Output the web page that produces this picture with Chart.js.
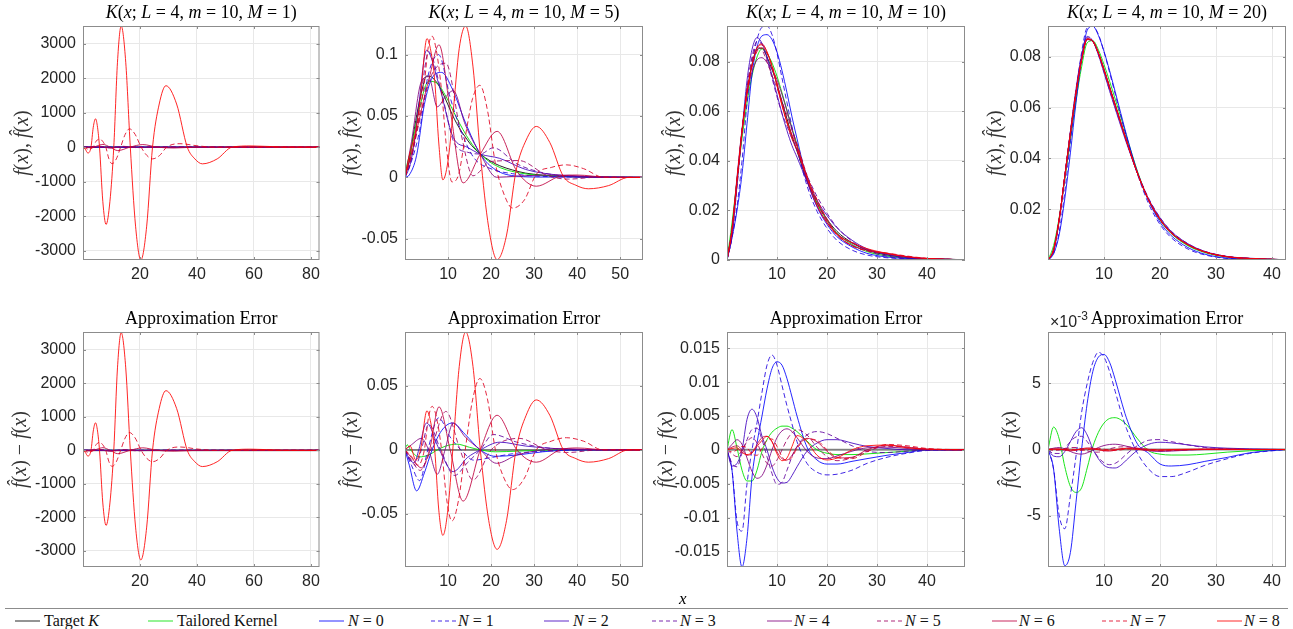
<!DOCTYPE html>
<html>
<head>
<meta charset="utf-8">
<title>Kernel approximation</title>
<script src="https://cdn.jsdelivr.net/npm/chart.js@4.4.1/dist/chart.umd.min.js"></script>
<style>
  body { margin: 0; background: #fff; }
  #fig { position: relative; width: 1293px; height: 629px; overflow: hidden; font-family: "Liberation Serif", "DejaVu Serif", serif; }
  #fig canvas { position: absolute; }
  .rule { position: absolute; left: 5px; width: 1283px; top: 608px; border-top: 1px solid #8c8c8c; }
  .xlab { position: absolute; left: 679px; top: 589px; font-style: italic; font-size: 17px; }
  .key { position: absolute; top: 611px; font-size: 16px; line-height: 20px; white-space: nowrap; color: #111; }
  .sample { position: absolute; top: 620px; width: 25px; height: 2px; }
</style>
</head>
<body>
<div id="fig"></div>
<script>
// ---------------- data ----------------
const seriesNames = ['Target K', 'Tailored Kernel', 'N = 0', 'N = 1', 'N = 2', 'N = 3', 'N = 4', 'N = 5', 'N = 6', 'N = 7', 'N = 8'];

// M = 1 : kernel and approximations, [x, y] pairs
const fitM1 = [
  [[0,0],[2,0.033],[6,0.082],[12,0.044],[20,0.013],[30,0.0025],[83,0]],
  [[0,0],[2,0.033],[6,0.079],[12,0.05],[20,0.016],[30,0.0025],[83,0]],
  [[0,0],[3,-3],[10,2],[20,-1],[40,0],[83,0]],
  [[0,0],[3,-3],[8,3],[16,-2],[30,0],[83,0]],
  [[0,0],[4,5],[10,-5],[18,3],[30,0],[83,0]],
  [[0,0],[5,8],[10,-8],[16,5],[25,0],[83,0]],
  [[0,0],[4,12],[9,-15],[14,10],[20,-5],[30,0],[83,0]],
  [[0,0],[3,-10],[6,25],[10,-30],[14,25],[19,-15],[25,5],[35,0],[83,0]],
  [[0,0],[3,-20],[4.8,30],[7,80],[9.5,0],[12.2,-100],[16.5,0],[21,75],[26,0],[32,-25],[40,0],[83,0]],
  [[0,0],[2,-60],[3.5,0],[4.6,170],[5.8,240],[6.9,170],[8,0],[9.1,-340],[10.2,-480],[11.7,-340],[13.2,0],[14.8,370],[16.3,530],[18.3,370],[20.4,0],[22.4,-240],[24.4,-340],[26.9,-240],[29.4,0],[34,100],[40,40],[46,0],[83,0]],
  [[0,0],[0.8,-60],[1.7,-170],[2.8,0],[3.6,575],[4.4,822],[5.1,575],[5.8,0],[6.95,-1570],[8.1,-2240],[9.45,-1570],[10.8,0],[12.1,2460],[13.4,3510],[15,2460],[16.6,0],[18.45,-2290],[20.3,-3270],[22.35,-2290],[24.4,0],[26.75,1250],[29.1,1780],[32.85,1250],[36.6,0],[39.25,-340],[41.9,-484],[47.1,-340],[52.3,0],[59,35],[70,5],[83,0]]
];
// M = 1 : errors (the N curves are the same as above at this scale)
const errM1 = [
  [[0,0],[83,0]],
  [[0,0],[1,0.004],[3,-0.005],[12,0.004],[30,0],[83,0]],
  ...fitM1.slice(2)
];

// M = 5 : kernel and approximations, [x, y] pairs
const fitM5 = [
  [[0,0],[1,0.014],[2,0.036],[3,0.056],[4,0.072],[5,0.0825],[6,0.082],[7,0.079],[8,0.074],[9,0.067],[10,0.059],[11,0.051],[12,0.044],[13,0.038],[14,0.033],[15,0.028],[16,0.024],[17.5,0.019],[20,0.013],[22,0.0095],[25,0.006],[28,0.0035],[32,0.0018],[36,0.0009],[40,0.0004],[45,0.0002],[55.3,0]],
  [[0,0],[0.5,0.011],[1.3,0.021],[3.2,0.0537],[5.5,0.0783],[7.5,0.0765],[9.5,0.066],[12,0.0485],[15,0.030],[17.5,0.019],[21,0.0098],[26,0.004],[35,0.0011],[55.3,0]],
  [[0,0],[1,0.002],[2.7,0.018],[4.5,0.0593],[6.3,0.081],[8.5,0.0855],[11,0.072],[14,0.045],[17.5,0.019],[21,0.0063],[26,0.001],[32,0.0003],[40,0.0004],[55.3,0]],
  [[0,0],[1.5,0.013],[3.4,0.0384],[5.3,0.082],[7.8,0.100],[10.5,0.065],[13,0.038],[16,0.016],[20,0.007],[25,0.003],[32,0.0008],[45,0.0002],[55.3,0]],
  [[0,0],[1.2,0.0104],[2.2,0.030],[3.2,0.059],[5,0.1035],[8,0.074],[11.2,0.0326],[14.5,0.0245],[17.5,0.019],[22,0.0155],[28,0.0065],[35,0.0021],[45,0.0002],[55.3,0]],
  [[0,0],[1.3,0.0126],[2.5,0.034],[3.8,0.0688],[5.5,0.1023],[8.3,0.072],[11.5,0.0275],[14.5,0.0205],[17.5,0.019],[20.5,0.0241],[26,0.011],[32,0.0038],[40,0.0004],[55.3,0]],
  [[0,0],[1.5,0.029],[3.8,0.078],[5.5,0.082],[7.5,0.0575],[9.3,0.065],[11.2,0.0706],[14,0.043],[17.5,0.019],[21.3,0.0001],[26,0.001],[32,0.0018],[36,0.0019],[45,0.0002],[55.3,0]],
  [[0,0],[1.5,0.017],[3.5,0.048],[6,0.082],[9.5,0.093],[12.8,0.039],[15.8,0.0013],[20,0.013],[26.5,0.0137],[33,0.0016],[38,-0.0014],[45,0.0002],[55.3,0]],
  [[0,0],[1.5,0.019],[3.8,0.0548],[5.7,0.082],[7.9,0.108],[10.5,0.055],[13.5,-0.0045],[17.5,0.019],[21.4,0.0375],[26,0.005],[30.5,-0.0072],[36,0.0009],[40,0.0019],[47,0.0001],[55.3,0]],
  [[0,0],[1.5,0.020],[3,0.044],[4.5,0.077],[5.4,0.106],[6.3,0.115],[7.4,0.101],[8.5,0.0705],[9.7,0.0224],[10.9,-0.0037],[12.45,0.0023],[14,0.033],[15.7,0.0642],[17.4,0.075],[19.2,0.0539],[21,0.0113],[23,-0.0137],[25,-0.025],[27.75,-0.0183],[30.5,0.0025],[34,0.0081],[37.5,0.0102],[41.5,0.0071],[46,0.0002],[55.3,0]],
  [[0,0],[1.2,0.021],[2.5,0.038],[3.6,0.066],[5.1,0.113],[6,0.103],[6.9,0.079],[7.85,0.028],[8.8,-0.002],[9.95,0.0124],[11.1,0.050],[12.6,0.105],[14.1,0.1233],[15.8,0.090],[17.5,0.019],[19.45,-0.041],[21.4,-0.067],[23.6,-0.047],[25.8,0.0053],[28.15,0.0304],[30.5,0.0415],[33.65,0.0284],[36.8,0.0008],[39.7,-0.0064],[42.6,-0.0093],[47.3,-0.0067],[52,0],[55.3,0]]
];
// M = 5 : errors, [x, y] pairs
const errM5 = [
  [[0,0],[55.3,0]],
  [[0,0],[0.5,0.004],[1.3,0],[3.2,-0.0055],[5.5,-0.004],[7.5,0],[9.5,0.003],[12,0.0045],[15,0.002],[17.5,0],[21,-0.0015],[26,-0.001],[35,0],[55.3,0]],
  [[0,0],[1,-0.012],[2.7,-0.032],[4.5,-0.018],[6.3,0],[8.5,0.015],[11,0.021],[14,0.012],[17.5,0],[21,-0.005],[26,-0.004],[32,-0.0015],[40,0],[55.3,0]],
  [[0,0],[1.5,-0.012],[3.4,-0.024],[5.3,0],[7.8,0.025],[10.5,0.01],[13,0],[16,-0.008],[20,-0.006],[25,-0.003],[32,-0.001],[45,0],[55.3,0]],
  [[0,0],[1.2,-0.008],[2.2,-0.01],[3.2,0],[5,0.021],[8,0],[11.2,-0.017],[14.5,-0.006],[17.5,0],[22,0.006],[28,0.003],[35,0.001],[45,0],[55.3,0]],
  [[0,0],[1.3,-0.008],[2.5,-0.012],[3.8,0],[5.5,0.02],[8.3,0],[11.5,-0.02],[14.5,-0.01],[17.5,0],[20.5,0.012],[26,0.006],[32,0.002],[40,0],[55.3,0]],
  [[0,0],[1.5,0.004],[3.8,0.009],[5.5,0],[7.5,-0.019],[9.3,0],[11.2,0.021],[14,0.01],[17.5,0],[21.3,-0.0105],[26,-0.004],[32,0],[36,0.001],[45,0],[55.3,0]],
  [[0,0],[1.5,-0.008],[3.5,-0.016],[6,0],[9.5,0.03],[12.8,0],[15.8,-0.0235],[20,0],[26.5,0.009],[33,0],[38,-0.002],[45,0],[55.3,0]],
  [[0,0],[1.5,-0.006],[3.8,-0.014],[5.7,0],[7.9,0.0336],[10.5,0],[13.5,-0.04],[17.5,0],[21.4,0.027],[26,0],[30.5,-0.0096],[36,0],[40,0.0015],[47,0],[55.3,0]],
  [[0,0],[1.5,-0.005],[3,-0.012],[4.5,0],[5.4,0.024],[6.3,0.034],[7.4,0.024],[8.5,0],[9.7,-0.039],[10.9,-0.0555],[12.45,-0.039],[14,0],[15.7,0.039],[17.4,0.0557],[19.2,0.039],[21,0],[23,-0.022],[25,-0.031],[27.75,-0.022],[30.5,0],[34,0.0068],[37.5,0.0095],[41.5,0.0068],[46,0],[55.3,0]],
  [[0,0],[1.2,0.003],[2.5,-0.008],[3.6,0],[5.1,0.0305],[6,0.021],[6.9,0],[7.85,-0.047],[8.8,-0.0667],[9.95,-0.047],[11.1,0],[12.6,0.065],[14.1,0.092],[15.8,0.065],[17.5,0],[19.45,-0.055],[21.4,-0.0776],[23.6,-0.055],[25.8,0],[28.15,0.027],[30.5,0.039],[33.65,0.027],[36.8,0],[39.7,-0.0068],[42.6,-0.0096],[47.3,-0.0068],[52,0],[55.3,0]]
];

// M = 10 : values on a common x grid
const gridM10 = [0,1,2,3,4,5,6,7,8,9,10,11,12,13,14,16,18,20,22,25,28,32,36,40,47.6];
const fitM10 = [
  [0,.012,.032,.052,.068,.079,.085,.0855,.082,.077,.071,.064,.057,.050,.044,.032,.023,.0165,.0115,.007,.004,.002,.001,.0005,.0001],
  [0,.015,.0323,.049,.0634,.0744,.082,.0853,.0835,.0796,.0742,.0675,.0605,.0532,.0467,.0333,.023,.016,.0108,.0063,.0034,.0016,.0008,.0005,.0001],
  [0,.009,.020,.0347,.055,.075,.086,.0905,.091,.089,.084,.0765,.0675,.0578,.049,.0324,.0215,.0144,.0094,.0053,.0027,.0012,.0006,.0005,.0001],
  [0,.009,.0215,.040,.063,.079,.089,.094,.0945,.091,.0835,.0735,.0635,.0538,.0452,.030,.0197,.0128,.0079,.004,.002,.0009,.0005,.0004,.0001],
  [0,.0096,.030,.052,.0725,.085,.0898,.0875,.082,.0745,.0668,.0591,.0522,.0462,.0415,.0318,.024,.018,.013,.008,.0045,.0022,.001,.0005,.0001],
  [0,.010,.0295,.0515,.0695,.082,.0882,.087,.081,.0735,.0659,.0592,.054,.049,.0445,.0342,.0257,.0189,.0132,.0076,.0038,.0016,.0008,.0005,.0001],
  [0,.0128,.0335,.0528,.0668,.0758,.0808,.0817,.0798,.077,.0728,.0668,.0601,.0527,.0458,.0318,.0218,.0152,.0106,.0068,.0043,.0024,.0012,.0005,.0001],
  [0,.0114,.031,.052,.0692,.0808,.086,.0849,.080,.0746,.0695,.064,.0585,.0525,.047,.0342,.0234,.0155,.0099,.0058,.0038,.0025,.0014,.0006,.0001],
  [0,.0124,.0326,.052,.0672,.0785,.0858,.0873,.084,.0782,.0707,.0627,.0555,.0492,.0444,.0337,.0242,.0163,.0103,.0059,.004,.0027,.0014,.0006,.0001],
  [0,.0117,.032,.0525,.0683,.0784,.0842,.0857,.0834,.0786,.0715,.063,.0554,.0489,.0442,.0336,.0244,.0165,.0104,.0057,.0037,.0028,.0016,.0007,.0001],
  [0,.0122,.0323,.0516,.0673,.0786,.0855,.0869,.084,.0782,.0704,.0624,.0558,.0505,.0461,.0332,.0222,.015,.0103,.007,.0046,.0027,.0013,.0006,.0001]
];
const errM10 = [
  [[0,0],[47.6,0]],
  [0,.003,.0003,-.003,-.0046,-.0046,-.003,-.0002,.0015,.0026,.0032,.0035,.0035,.0032,.0027,.0013,0,-.0005,-.0007,-.0007,-.0006,-.0004,-.0002,0,0],
  [0,-.003,-.012,-.0173,-.013,-.004,.001,.005,.009,.012,.013,.0125,.0105,.0078,.005,.0004,-.0015,-.0021,-.0021,-.0017,-.0013,-.0008,-.0004,0,0],
  [0,-.003,-.0105,-.012,-.005,0,.004,.0085,.0125,.014,.0125,.0095,.0065,.0038,.0012,-.002,-.0033,-.0037,-.0036,-.003,-.002,-.0011,-.0005,-.0001,0],
  [0,-.0024,-.002,0,.0045,.006,.0048,.002,0,-.0025,-.0042,-.0049,-.0048,-.0038,-.0025,-.0002,.001,.0015,.0015,.001,.0005,.0002,0,0,0],
  [0,-.002,-.0025,-.0005,.0015,.003,.0032,.0015,-.001,-.0035,-.0051,-.0048,-.003,-.001,.0005,.0022,.0027,.0024,.0017,.0006,-.0002,-.0004,-.0002,0,0],
  [0,.0008,.0015,.0008,-.0012,-.0032,-.0042,-.0038,-.0022,0,.0018,.0028,.0031,.0027,.0018,-.0002,-.0012,-.0013,-.0009,-.0002,.0003,.0004,.0002,0,0],
  [0,-.0006,-.001,0,.0012,.0018,.001,-.0006,-.002,-.0024,-.0015,0,.0015,.0025,.003,.0022,.0004,-.001,-.0016,-.0012,-.0002,.0005,.0004,.0001,0],
  [0,.0004,.0006,0,-.0008,-.0005,.0008,.0018,.002,.0012,-.0003,-.0013,-.0015,-.0008,.0004,.0017,.0012,-.0002,-.0012,-.0011,0,.0007,.0004,.0001,0],
  [0,-.0003,0,.0005,.0003,-.0006,-.0008,.0002,.0014,.0016,.0005,-.001,-.0016,-.0011,.0002,.0016,.0014,0,-.0011,-.0013,-.0003,.0008,.0006,.0002,0],
  [0,.0002,.0003,-.0004,-.0007,-.0004,.0005,.0014,.002,.0012,-.0006,-.0016,-.0012,.0005,.0021,.0012,-.0008,-.0015,-.0012,0,.0006,.0007,.0003,.0001,0]
];

// M = 20 : values on a common x grid (errors in units of 1e-3, as the axis shows)
const gridM20 = [0,1,2,3,4,5,6,7,8,9,10,11,12,13,14,16,18,20,22,25,28,32,36,42.5];
const fitM20 = [
  [0,.004,.016,.033,.05,.066,.079,.087,.0862,.0815,.075,.068,.061,.054,.047,.034,.0235,.016,.0108,.006,.0032,.0013,.0006,.0001],
  [0,.0057,.0168,.0317,.0472,.0628,.0761,.0856,.0864,.0828,.077,.0704,.0634,.0563,.0489,.0348,.0234,.0157,.0104,.0056,.0029,.0011,.0005,.0001],
  [0,.0025,.010,.0242,.0422,.062,.079,.0905,.0921,.0885,.0822,.0746,.0663,.0578,.0494,.0344,.0232,.0149,.0096,.0049,.0023,.0007,.0004,.0001],
  [0,.0025,.011,.027,.0465,.0655,.0818,.0915,.0921,.0889,.082,.0739,.0654,.0569,.0486,.0337,.022,.014,.0088,.0043,.002,.0006,.0003,.0001],
  [0,.0035,.0155,.0329,.0506,.0674,.0807,.0881,.0863,.0808,.0738,.0666,.0596,.0528,.0462,.034,.0239,.0166,.0113,.0064,.0034,.0014,.0007,.0001],
  [0,.0037,.0157,.0331,.0506,.067,.08,.0876,.0862,.0809,.074,.0669,.06,.0533,.0467,.0343,.0242,.0168,.0114,.0064,.0034,.0014,.0006,.0001],
  [0,.0041,.0162,.033,.0499,.0657,.0787,.0868,.0862,.0817,.0753,.0684,.0614,.0544,.0473,.034,.0234,.0159,.0107,.006,.0032,.0013,.0006,.0001],
  [0,.004,.016,.033,.0502,.0662,.079,.0869,.086,.0813,.0749,.068,.0612,.0542,.0472,.0341,.0235,.0159,.0107,.006,.0032,.0013,.0006,.0001],
  [0,.004,.016,.033,.0499,.066,.079,.0871,.0863,.0815,.0749,.0679,.061,.054,.0471,.0341,.0235,.016,.0107,.006,.0032,.0013,.0006,.0001],
  [0,.004,.016,.033,.05,.066,.0789,.087,.0863,.0816,.075,.0679,.0609,.054,.047,.0341,.0235,.016,.0107,.006,.0032,.0013,.0006,.0001],
  [0,.004,.016,.033,.05,.066,.079,.0871,.0862,.0815,.0749,.068,.061,.054,.047,.034,.0235,.016,.0108,.006,.0032,.0013,.0006,.0001]
];
const errM20 = [
  [[0,0],[42.5,0]],
  [0,1.7,0.8,-1.3,-2.8,-3.25,-2.9,-1.4,0.2,1.3,2.0,2.35,2.41,2.25,1.9,0.8,-0.1,-0.35,-0.42,-0.42,-0.35,-0.2,-0.1,0],
  [0,-1.5,-6.0,-8.8,-7.8,-4.0,0,3.5,5.9,7.0,7.2,6.6,5.3,3.8,2.4,0.4,-0.3,-1.1,-1.25,-1.15,-0.9,-0.6,-0.25,0],
  [0,-1.5,-5.0,-6.0,-3.5,-0.5,2.8,5.0,6.6,7.36,7.0,5.9,4.4,2.9,1.6,-0.3,-1.5,-2.05,-2.05,-1.7,-1.2,-0.7,-0.3,0],
  [0,-0.5,-0.55,-0.15,0.6,1.35,1.65,1.1,0.05,-0.7,-1.2,-1.38,-1.4,-1.2,-0.8,-0.05,0.4,0.55,0.5,0.35,0.2,0.1,0.05,0],
  [0,-0.3,-0.3,0.1,0.6,0.95,1.0,0.6,0,-0.6,-1.0,-1.15,-1.05,-0.75,-0.35,0.3,0.7,0.75,0.6,0.35,0.15,0.05,0,0],
  [0,0.1,0.15,0.05,-0.15,-0.3,-0.35,-0.25,-0.05,0.15,0.3,0.38,0.4,0.35,0.25,0.05,-0.1,-0.15,-0.12,-0.05,0,0.02,0,0],
  [0,-0.05,-0.05,0.05,0.15,0.15,0.05,-0.1,-0.2,-0.2,-0.1,0.05,0.15,0.2,0.2,0.1,-0.05,-0.1,-0.08,-0.02,0.02,0.02,0,0],
  [0,0.05,0.05,-0.05,-0.1,-0.05,0.05,0.12,0.1,0,-0.1,-0.12,-0.05,0.05,0.1,0.08,0,-0.05,-0.05,0,0.02,0.01,0,0],
  [0,-0.03,0,0.04,0.03,-0.04,-0.07,-0.02,0.06,0.08,0.02,-0.06,-0.08,-0.03,0.04,0.08,0.02,-0.04,-0.05,-0.02,0.01,0.02,0.01,0],
  [0,0.02,0.02,-0.02,-0.04,-0.02,0.03,0.06,0.04,-0.02,-0.06,-0.05,0,0.05,0.06,0,-0.05,-0.04,0,0.02,0.02,0.01,0,0]
];

// tick values
const xTicksM1 = [20, 40, 60, 80];
const xTicksM5 = [10, 20, 30, 40, 50];
const xTicksM10 = [10, 20, 30, 40];
const yTicksM1 = [-3000, -2000, -1000, 0, 1000, 2000, 3000];
const yTicksFitM5 = [-0.05, 0, 0.05, 0.1];
const yTicksErrM5 = [-0.05, 0, 0.05];
const yTicksFitM10 = [0, 0.02, 0.04, 0.06, 0.08];
const yTicksFitM20 = [0.02, 0.04, 0.06, 0.08];
const yTicksErrM10 = [-0.015, -0.01, -0.005, 0, 0.005, 0.01, 0.015];
const yTicksErrM20 = [-5, 0, 5];

// ---------------- styles ----------------
const lineColors = ['rgba(0,0,0,0.85)', 'rgba(0,225,0,0.9)'];
const keyColors = ['rgba(0,0,0,0.42)', 'rgba(0,225,0,0.42)'];
for (let k = 0; k <= 8; k++) {
  const r = Math.round(255 * k / 8), b = 255 - r;
  lineColors.push(`rgba(${r},0,${b},0.85)`);
  keyColors.push(`rgba(${r},0,${b},0.42)`);
}
const dashed = [false, false, false, true, false, true, false, true, false, true, false];

const SERIF = '"Liberation Serif", "DejaVu Serif", serif';
const SANS = '"Liberation Sans", Arial, sans-serif';
const topTitle = M => [['K','i'],['(',''],['x','i'],['; ',''],['L','i'],[' = 4, ',''],['m','i'],[' = 10, ',''],['M','i'],[' = ' + M + ')','']];
const fitLabel = [['f','i'],['(',''],['x','i'],['), ',''],['f\u0302','i'],['(',''],['x','i'],[')','']];
const errLabel = [['f\u0302','i'],['(',''],['x','i'],[') \u2212 ',''],['f','i'],['(',''],['x','i'],[')','']];
const errTitle = [['Approximation Error','']];

const COL_LEFT = [83, 405, 727, 1048], BOX_W = 238;
const ROW_TOP = [26, 332], ROW_H = [234, 235];
const PAD_T = 26, AXIS_W = 80, AXIS_H = 32, PAD_R = 4;

const panels = [
  {col:0, row:0, rows:fitM1,  grid:null,    xMax:83,   xTicks:xTicksM1,  yMin:-3270,   yMax:3510,   yTicks:yTicksM1,     title:topTitle(1),  ylab:fitLabel, ylabDx:-60},
  {col:1, row:0, rows:fitM5,  grid:null,    xMax:55.3, xTicks:xTicksM5,  yMin:-0.0673, yMax:0.1233, yTicks:yTicksFitM5,  title:topTitle(5),  ylab:fitLabel, ylabDx:-53},
  {col:2, row:0, rows:fitM10, grid:gridM10, xMax:47.6, xTicks:xTicksM10, yMin:0,       yMax:0.0945, yTicks:yTicksFitM10, title:topTitle(10), ylab:fitLabel, ylabDx:-52},
  {col:3, row:0, rows:fitM20, grid:gridM20, xMax:42.5, xTicks:xTicksM10, yMin:0,       yMax:0.0922, yTicks:yTicksFitM20, title:topTitle(20), ylab:fitLabel, ylabDx:-52},
  {col:0, row:1, rows:errM1,  grid:null,    xMax:83,   xTicks:xTicksM1,  yMin:-3480,   yMax:3530,   yTicks:yTicksM1,     title:errTitle, ylab:errLabel, ylabDx:-62},
  {col:1, row:1, rows:errM5,  grid:null,    xMax:55.3, xTicks:xTicksM5,  yMin:-0.0914, yMax:0.092,  yTicks:yTicksErrM5,  title:errTitle, ylab:errLabel, ylabDx:-53},
  {col:2, row:1, rows:errM10, grid:gridM10, xMax:47.6, xTicks:xTicksM10, yMin:-0.0173, yMax:0.0174, yTicks:yTicksErrM10, title:errTitle, ylab:errLabel, ylabDx:-60},
  {col:3, row:1, rows:errM20, grid:gridM20, xMax:42.5, xTicks:xTicksM10, yMin:-8.9,    yMax:8.9,    yTicks:yTicksErrM20, title:errTitle, ylab:errLabel, ylabDx:-37, expo:true}
];

function toPoints(row, grid) {
  if (Array.isArray(row[0])) return row.map(p => ({x: p[0], y: p[1]}));
  return row.map((y, i) => ({x: grid[i], y: y}));
}

function drawRich(ctx, segs, size, cx, cy) {
  const fonts = segs.map(s => (s[1] ? 'italic ' : '') + size + 'px ' + SERIF);
  let w = 0;
  segs.forEach((s, i) => { ctx.font = fonts[i]; w += ctx.measureText(s[0]).width; });
  let x = cx - w / 2;
  ctx.textAlign = 'left';
  ctx.textBaseline = 'middle';
  segs.forEach((s, i) => { ctx.font = fonts[i]; ctx.fillText(s[0], x, cy); x += ctx.measureText(s[0]).width; });
}

// box, inner ticks, titles and axis labels
const framePlugin = {
  id: 'frame',
  afterDraw(chart, args, opts) {
    const ctx = chart.ctx, a = chart.chartArea;
    const sx = chart.scales.x, sy = chart.scales.y;
    ctx.save();
    ctx.strokeStyle = '#8c8c8c';
    ctx.lineWidth = 1;
    ctx.beginPath();
    sx.ticks.forEach(t => {
      const px = Math.round(sx.getPixelForValue(t.value)) + 0.5;
      ctx.moveTo(px, a.bottom); ctx.lineTo(px, a.bottom - 3);
      ctx.moveTo(px, a.top); ctx.lineTo(px, a.top + 3);
    });
    sy.ticks.forEach(t => {
      const py = Math.round(sy.getPixelForValue(t.value)) + 0.5;
      ctx.moveTo(a.left, py); ctx.lineTo(a.left + 3, py);
      ctx.moveTo(a.right, py); ctx.lineTo(a.right - 3, py);
    });
    ctx.stroke();
    ctx.strokeRect(a.left + 0.5, a.top + 0.5, a.right - a.left - 1, a.bottom - a.top - 1);

    ctx.fillStyle = '#000';
    drawRich(ctx, opts.title, 18, (a.left + a.right) / 2, a.top - 13);

    ctx.fillStyle = '#333';
    ctx.save();
    ctx.translate(a.left + opts.ylabDx, (a.top + a.bottom) / 2);
    ctx.rotate(-Math.PI / 2);
    drawRich(ctx, opts.ylab, 20, 0, 0);
    ctx.restore();

    if (opts.expo) {
      ctx.fillStyle = '#262626';
      ctx.textAlign = 'left';
      ctx.textBaseline = 'alphabetic';
      ctx.font = '16px ' + SANS;
      ctx.fillText('\u00d710', a.left + 2, a.top - 5);
      const w = ctx.measureText('\u00d710').width;
      ctx.font = '12px ' + SANS;
      ctx.fillText('-3', a.left + 2 + w, a.top - 12);
    }
    ctx.restore();
  }
};

const fig = document.getElementById('fig');

panels.forEach(p => {
  const left = COL_LEFT[p.col], top = ROW_TOP[p.row], h = ROW_H[p.row];
  const cv = document.createElement('canvas');
  cv.width = AXIS_W + BOX_W + PAD_R;
  cv.height = PAD_T + h + AXIS_H;
  cv.style.left = (left - AXIS_W) + 'px';
  cv.style.top = (top - PAD_T) + 'px';
  fig.appendChild(cv);

  const datasets = p.rows.map((row, i) => ({
    label: seriesNames[i],
    data: toPoints(row, p.grid),
    borderColor: (p.row === 1 && i === 0) ? 'rgba(0,0,0,0.45)' : lineColors[i],
    borderWidth: (p.row === 1 && i === 0) ? 2 : 1,
    borderDash: dashed[i] ? [5, 3] : [],
    cubicInterpolationMode: 'monotone',
    pointRadius: 0,
    fill: false,
    order: 10 - i
  }));

  const tickFont = { family: SANS, size: 16 };
  new Chart(cv, {
    type: 'line',
    data: { datasets },
    options: {
      responsive: false,
      animation: false,
      events: [],
      layout: { padding: { top: PAD_T, right: PAD_R, left: 0, bottom: 0 } },
      plugins: {
        legend: { display: false },
        tooltip: { enabled: false },
        frame: { title: p.title, ylab: p.ylab, ylabDx: p.ylabDx, expo: !!p.expo }
      },
      scales: {
        x: {
          type: 'linear', min: 0, max: p.xMax,
          afterBuildTicks: s => { s.ticks = p.xTicks.map(v => ({ value: v })); },
          afterFit: s => { s.height = AXIS_H; },
          grid: { color: '#e8e8e8', drawTicks: false },
          border: { display: false },
          ticks: { padding: 5, color: '#262626', font: tickFont, maxRotation: 0, autoSkip: false, callback: v => String(v) }
        },
        y: {
          type: 'linear', min: p.yMin, max: p.yMax,
          afterBuildTicks: s => { s.ticks = p.yTicks.map(v => ({ value: v })); },
          afterFit: s => { s.width = AXIS_W; },
          grid: { color: '#e8e8e8', drawTicks: false },
          border: { display: false },
          ticks: { padding: 7, color: '#262626', font: tickFont, autoSkip: false, callback: v => String(v) }
        }
      }
    },
    plugins: [framePlugin]
  });
});

// ---------------- shared x label and legend ----------------
const rule = document.createElement('div');
rule.className = 'rule';
fig.appendChild(rule);

const xl = document.createElement('div');
xl.className = 'xlab';
xl.textContent = 'x';
fig.appendChild(xl);

const keyLine = [15, 148, 319, 431, 544, 652, 767, 877, 992, 1102, 1217];
const keyText = [44, 177, 348, 458, 573, 680, 794, 905, 1019, 1130, 1244];
seriesNames.forEach((name, i) => {
  const s = document.createElement('div');
  s.className = 'sample';
  s.style.left = keyLine[i] + 'px';
  s.style.background = dashed[i]
    ? `repeating-linear-gradient(to right, ${keyColors[i]} 0 4px, transparent 4px 7px)`
    : keyColors[i];
  fig.appendChild(s);

  const t = document.createElement('div');
  t.className = 'key';
  t.style.left = keyText[i] + 'px';
  if (i === 0) t.innerHTML = 'Target <i>K</i>';
  else if (i === 1) t.textContent = name;
  else t.innerHTML = '<i>N</i> = ' + (i - 2);
  fig.appendChild(t);
});
</script>
</body>
</html>
